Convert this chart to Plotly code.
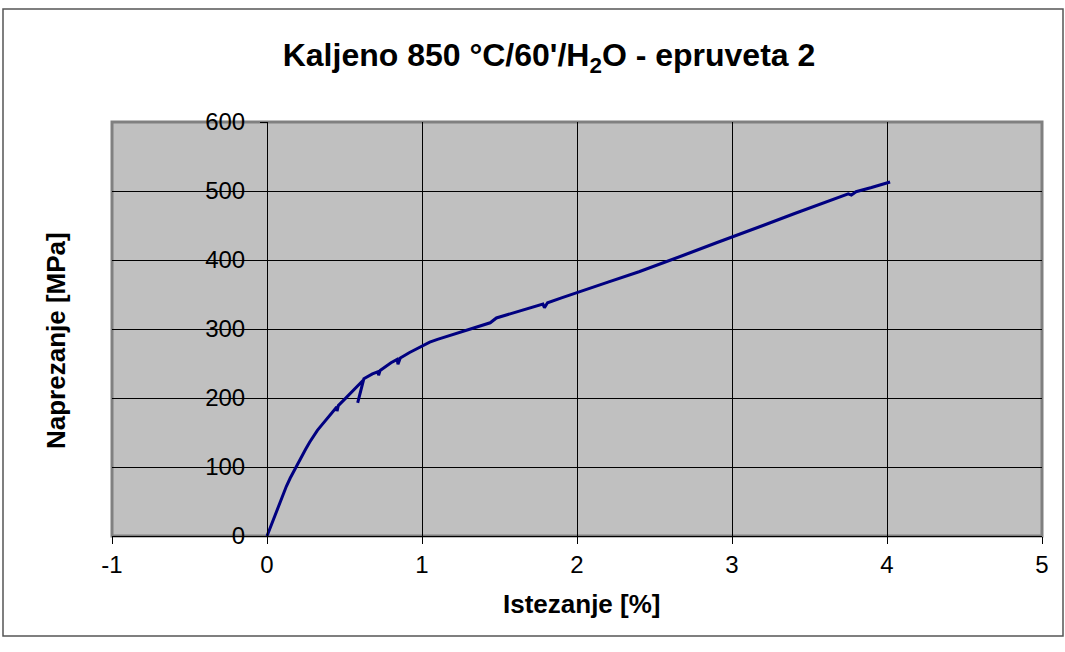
import plotly.graph_objects as go

# Data
strain = [0.0, 0.02, 0.05, 0.075, 0.10, 0.125, 0.15, 0.175, 0.20, 0.225, 0.25, 0.275, 0.30,
          0.325, 0.35, 0.375, 0.40, 0.44, 0.45, 0.452, 0.46,
          0.50, 0.55, 0.60, 0.622, 0.585, 0.625, 0.68, 0.715, 0.72, 0.73, 0.80, 0.84, 0.845,
          0.86, 0.92, 1.00, 1.05, 1.10, 1.20, 1.35, 1.42, 1.44, 1.48, 1.60, 1.78, 1.79, 1.81,
          1.90, 2.00, 2.20, 2.40, 2.50, 2.55, 2.70, 2.90, 3.00, 3.20, 3.40, 3.60, 3.75, 3.77,
          3.80, 3.90, 4.02]
stress = [0, 12, 30, 45, 58, 72, 84, 95, 105, 116, 126, 136, 145,
          153, 160, 167, 174, 184, 187, 181, 189,
          198, 209, 220, 226, 193, 228, 235, 238, 233, 240, 251, 256, 249,
          258, 266, 275, 281, 285, 292, 303, 308, 309, 316, 324, 336, 331, 338,
          345, 353, 368, 383, 391, 395, 408, 425, 433, 450, 467, 484, 496, 494,
          499, 505, 513]

x_ticks = [-1, 0, 1, 2, 3, 4, 5]
y_ticks = [0, 100, 200, 300, 400, 500, 600]

title_text = "Kaljeno 850 °C/60'/H<sub>2</sub>O - epruveta 2"
x_title = "Istezanje [%]"
y_title = "Naprezanje [MPa]"

FONT = "Liberation Sans, Arial, sans-serif"
W, H = 1065, 652
L, R, T, B = 112, 1042, 122, 536

fig = go.Figure()
fig.add_trace(go.Scatter(x=strain, y=stress, mode="lines",
                         line=dict(color="#000080", width=3), showlegend=False,
                         hoverinfo="x+y"))
# invisible trace so the value axis drawn at x = 0 renders
fig.add_trace(go.Scatter(x=[None], y=[None], yaxis="y2", showlegend=False, hoverinfo="skip"))

fig.update_layout(
    width=W, height=H,
    margin=dict(l=L, r=W - R, t=T, b=H - B, pad=0),
    paper_bgcolor="white", plot_bgcolor="#C0C0C0",
    font=dict(family=FONT, size=24, color="black"),
    title=dict(text="<b>" + title_text + "</b>", font=dict(family=FONT, size=32, color="black"),
               x=549 / W, xref="container", xanchor="center",
               y=1 - 55 / H, yref="container", yanchor="middle"),
    xaxis=dict(range=[-1, 5], tickvals=x_ticks, ticktext=[str(v) for v in x_ticks],
               showgrid=True, gridcolor="black", gridwidth=1,
               zeroline=False, showline=True, linecolor="black", linewidth=1,
               ticks="outside", ticklen=7, tickcolor="black", tickwidth=1,
               tickfont=dict(family=FONT, size=24, color="black"), fixedrange=True),
    yaxis=dict(range=[0, 600], tickvals=y_ticks, showticklabels=False,
               showgrid=True, gridcolor="black", gridwidth=1,
               zeroline=False, showline=False, ticks="", fixedrange=True),
    yaxis2=dict(range=[0, 600], overlaying="y", anchor="free", position=1 / 6,
                tickvals=y_ticks, ticktext=[str(v) for v in y_ticks],
                showgrid=False, zeroline=False, showline=True, linecolor="black", linewidth=1,
                ticks="outside", ticklen=7, tickcolor="black", tickwidth=1,
                ticklabelstandoff=10,
                tickfont=dict(family=FONT, size=24, color="black"), fixedrange=True),
    annotations=[
        dict(text="<b>" + x_title + "</b>", xref="paper", yref="paper",
             x=(582 - L) / (R - L), y=(B - 604) / (B - T), xanchor="center", yanchor="middle",
             showarrow=False, font=dict(family=FONT, size=26, color="black")),
        dict(text="<b>" + y_title + "</b>", xref="paper", yref="paper",
             x=(56 - L) / (R - L), y=(B - 341) / (B - T), xanchor="center", yanchor="middle",
             textangle=-90, showarrow=False, font=dict(family=FONT, size=26, color="black")),
    ],
    shapes=[
        dict(type="rect", xref="paper", yref="paper", x0=0, x1=1, y0=0, y1=1,
             line=dict(color="#808080", width=3), layer="below"),
        dict(type="rect", xref="paper", yref="paper",
             x0=(3 - L) / (R - L), x1=(1063 - L) / (R - L),
             y0=(B - 636) / (B - T), y1=(B - 9) / (B - T),
             line=dict(color="#555555", width=1.5)),
    ],
)

fig.write_html("out.html", config={"displayModeBar": False},
               post_script="document.body.style.margin='0px';")
